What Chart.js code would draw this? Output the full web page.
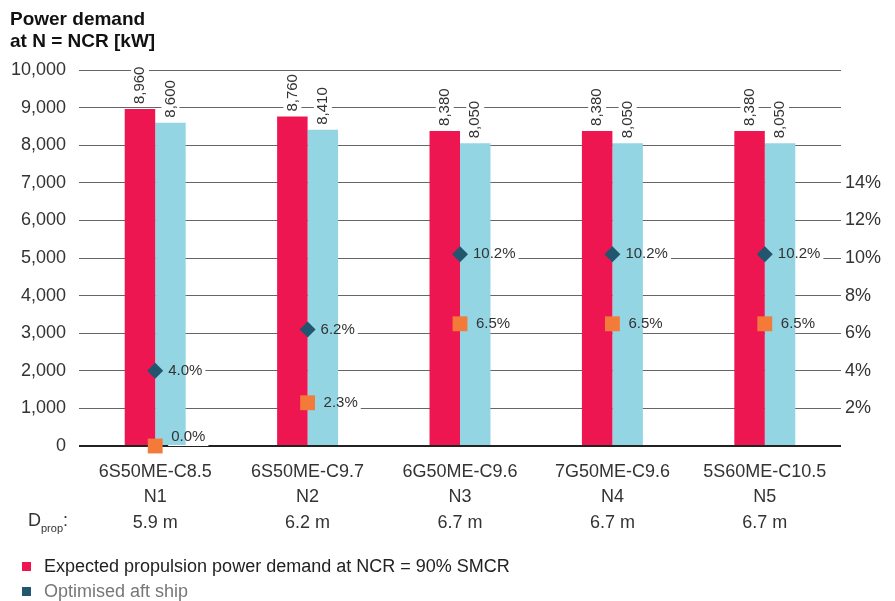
<!DOCTYPE html>
<html>
<head>
<meta charset="utf-8">
<script src="https://cdn.jsdelivr.net/npm/chart.js@4"></script>
<style>
  body { margin: 0; background: #fff; font-family: "Liberation Sans", Arial, sans-serif; color: #333; }
  #wrap { position: relative; width: 895px; height: 601px; }
  #title { position: absolute; left: 10px; top: 8px; font-weight: bold; font-size: 19px; line-height: 22px; color: #111; }
  #dprop { position: absolute; left: 28px; top: 510px; font-size: 18px; color: #333; }
  #dprop sub { font-size: 11px; vertical-align: -6px; }
  .leg { position: absolute; left: 22px; font-size: 18px; }
  .leg i { display: inline-block; width: 9px; height: 9px; margin-right: 13px; vertical-align: 1px; }
</style>
</head>
<body>
<div id="wrap">
  <canvas id="myChart" width="895" height="601"></canvas>
  <div id="title">Power demand<br>at N = NCR [kW]</div>
  <div id="dprop">D<sub>prop</sub>:</div>
  <div class="leg" style="top:556px;color:#222"><i style="background:#ed1651"></i>Expected propulsion power demand at NCR = 90% SMCR</div>
  <div class="leg" style="top:581px;color:#777"><i style="background:#22566e"></i>Optimised aft ship</div>
</div>
<script>
var engines = ['6S50ME-C8.5', '6S50ME-C9.7', '6G50ME-C9.6', '7G50ME-C9.6', '5S60ME-C10.5'];
var variants = ['N1', 'N2', 'N3', 'N4', 'N5'];
var propDiameters = ['5.9 m', '6.2 m', '6.7 m', '6.7 m', '6.7 m'];
var expectedPower = [8960, 8760, 8380, 8380, 8380];
var optimisedPower = [8600, 8410, 8050, 8050, 8050];
var savingDiamond = [4.0, 6.2, 10.2, 10.2, 10.2];
var savingSquare = [0.0, 2.3, 6.5, 6.5, 6.5];

var labels = engines.map((e, i) => [e, variants[i], propDiameters[i]]);
var FONT = '"Liberation Sans", Arial, sans-serif';

// label boxes are painted white over the grid, before the bars
function collectLabels(chart) {
    var out = [];
    var ctx = chart.ctx;
    chart.data.datasets.forEach((ds, di) => {
        var meta = chart.getDatasetMeta(di);
        meta.data.forEach((el, i) => {
            var v = ds.data[i];
            if (ds.type === 'line') {
                ctx.font = '15px ' + FONT;
                var t = v.toFixed(1) + '%';
                var w = ctx.measureText(t).width;
                var x = el.x + (ds.pointStyle === 'rect' ? 16 : 13);
                var y = el.y - (v === 0 ? 9 : 0);
                out.push({ t: t, x: x, y: y, w: w, rot: false });
            } else {
                ctx.font = '15px ' + FONT;
                var t2 = v.toLocaleString('en-US');
                var w2 = ctx.measureText(t2).width;
                out.push({ t: t2, x: el.x, y: el.y - 5, w: w2, rot: true });
            }
        });
    });
    return out;
}

var labelPlugin = {
    id: 'labelPlugin',
    beforeDatasetsDraw(chart) {
        var ctx = chart.ctx;
        ctx.save();
        ctx.fillStyle = '#fff';
        collectLabels(chart).forEach(l => {
            if (l.rot) ctx.fillRect(l.x - 9, l.y - l.w - 2, 18, l.w + 4);
            else ctx.fillRect(l.x - 3, l.y - 9, l.w + 6, 18);
        });
        ctx.restore();
    },
    afterDatasetsDraw(chart) {
        var ctx = chart.ctx;
        ctx.save();
        ctx.fillStyle = '#333';
        ctx.font = '15px ' + FONT;
        collectLabels(chart).forEach(l => {
            if (l.rot) {
                ctx.save();
                ctx.translate(l.x, l.y);
                ctx.rotate(-Math.PI / 2);
                ctx.textAlign = 'left';
                ctx.textBaseline = 'middle';
                ctx.fillText(l.t, 0, 0);
                ctx.restore();
            } else {
                ctx.textAlign = 'left';
                ctx.textBaseline = 'middle';
                ctx.fillText(l.t, l.x, l.y);
            }
        });
        ctx.restore();
    }
};

var ctx = document.getElementById('myChart').getContext('2d');
var chart = new Chart(ctx, {
    type: 'bar',
    data: {
        labels: labels,
        datasets: [
            {
                type: 'line', data: savingDiamond, yAxisID: 'y2', showLine: false, clip: false,
                pointStyle: 'rectRot', pointRadius: 8, pointBackgroundColor: '#22566e',
                pointBorderWidth: 0, order: 0
            },
            {
                type: 'line', data: savingSquare, yAxisID: 'y2', showLine: false, clip: false,
                pointStyle: 'rect', pointRadius: 10.5, pointBackgroundColor: '#f47a3a',
                pointBorderWidth: 0, order: 0
            },
            { label: 'Expected', data: expectedPower, backgroundColor: '#ed1651', order: 1 },
            { label: 'Optimised', data: optimisedPower, backgroundColor: '#93d5e3', order: 1 }
        ]
    },
    options: {
        responsive: false,
        animation: false,
        layout: { padding: { top: 70, left: 0, right: 0, bottom: 0 } },
        datasets: { bar: { barPercentage: 1, categoryPercentage: 0.4 } },
        plugins: { legend: { display: false }, tooltip: { enabled: false } },
        scales: {
            x: {
                grid: { display: false },
                border: { display: false },
                ticks: { color: '#333', font: { family: FONT, size: 18, lineHeight: 1.42 }, padding: 5, maxRotation: 0 },
                afterFit(s) { s.height = 155; }
            },
            y: {
                min: 0, max: 10000,
                border: { display: false },
                grid: {
                    drawTicks: false,
                    color: c => c.tick.value === 0 ? '#222' : '#666',
                    lineWidth: c => c.tick.value === 0 ? 2 : 1
                },
                ticks: {
                    stepSize: 1000, padding: 13, color: '#333',
                    font: { family: FONT, size: 18 },
                    callback: v => v.toLocaleString('en-US')
                },
                afterFit(s) { s.width = 79; }
            },
            y2: {
                position: 'right',
                min: 0, max: 20,
                border: { display: false },
                grid: { display: false, drawTicks: false },
                ticks: {
                    stepSize: 2, padding: 4, color: '#333',
                    font: { family: FONT, size: 18 },
                    callback: v => (v > 0 && v <= 14) ? v + '%' : ''
                },
                afterFit(s) { s.width = 54; }
            }
        }
    },
    plugins: [labelPlugin]
});
</script>
</body>
</html>
